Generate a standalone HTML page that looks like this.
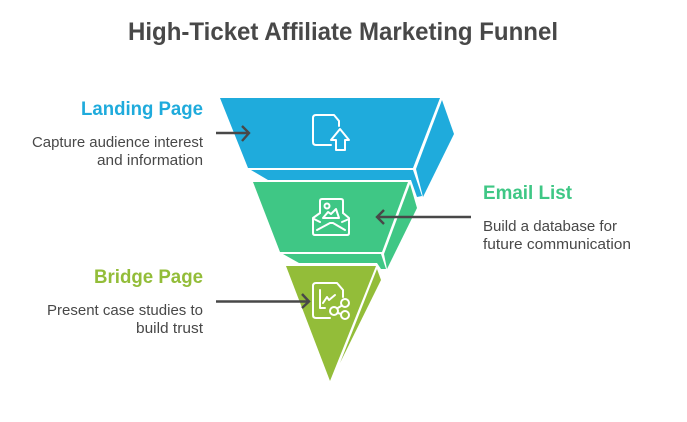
<!DOCTYPE html>
<html><head><meta charset="utf-8"><style>
html,body{margin:0;padding:0;background:#fff;width:687px;height:422px;overflow:hidden}
svg{display:block}
text{font-family:"Liberation Sans",sans-serif}
.t{font-size:15px;fill:#484848}
.h{font-size:19px;font-weight:bold}
.ic{fill:none;stroke:#fff;stroke-width:2;stroke-linejoin:round;stroke-linecap:round}
.ar{fill:none;stroke:#484848;stroke-width:2.400}
</style></head><body>
<svg width="687" height="422" viewBox="0 0 687 422" xmlns="http://www.w3.org/2000/svg">
<text x="343" y="40" text-anchor="middle" font-size="25" font-weight="bold" fill="#484848" textLength="430" lengthAdjust="spacingAndGlyphs">High-Ticket Affiliate Marketing Funnel</text>

<polygon points="220,98 440,98 413,168 248,168" fill="#1fabdc"/>
<polygon points="442,100 454,134 423,197 416,169" fill="#1fabdc"/>
<polygon points="251,170 413,170 422,196 417,197 411,180 268,180" fill="#1fabdc"/>

<polygon points="253,182 408,182 382,252 280,252" fill="#3fc785"/>
<polygon points="410,184 417,208 387,269 384,254" fill="#3fc785"/>
<polygon points="283,254 381,254 386,269 381,269 377,263 299,263" fill="#3fc785"/>

<polygon points="286,266 376,266 330,381" fill="#93bd39"/>
<polygon points="377,269 381,280 340,363" fill="#93bd39"/>

<path class="ic" d="M331,145 H316 Q313,145 313,142 V118 Q313,115 316,115 H334 L339,121 V126"/>
<path class="ic" d="M340,129 L349,140 H345 V150 H336 V140 H331 Z"/>

<path class="ic" d="M320,213 V201 Q320,199 322,199 H341 Q343,199 343,201 V213"/>
<path class="ic" d="M320,213 L313,218 V233 Q313,235 315,235 H347 Q349,235 349,233 V218 L343,213"/>
<path class="ic" d="M317,230 L330,223 H333 L345,230 M314,219 L320,222 M349,219 L342,222"/>
<circle class="ic" cx="327" cy="206" r="2.500"/>
<path class="ic" d="M323,218 L328,212 L331,214 L336,209 L339,218 Z"/>

<path class="ic" d="M330,318 H316 Q313,318 313,315 V286 Q313,283 316,283 H337 L343,290 V297"/>
<path class="ic" d="M320,290 V308 H325 M323,303 L327,297 L329,300 L335,295"/>
<circle class="ic" cx="334" cy="311" r="4"/>
<circle class="ic" cx="345" cy="303" r="4"/>
<circle class="ic" cx="345" cy="315" r="4"/>
<path class="ic" d="M337,308.500 L342,305.500 M338,313 L341,314"/>

<path class="ar" d="M216,133 H248 M242,126 L249,133 L242,141"/>
<path class="ar" d="M471,217 H378 M384,210 L377,217 L384,224"/>
<path class="ar" d="M216,301.500 H308 M302,294 L309,301.500 L302,308"/>

<text class="h" x="81" y="115" fill="#1fabdc" textLength="122" lengthAdjust="spacingAndGlyphs">Landing Page</text>
<text class="t" x="32" y="147" textLength="171" lengthAdjust="spacingAndGlyphs">Capture audience interest</text>
<text class="t" x="97" y="165" textLength="106" lengthAdjust="spacingAndGlyphs">and information</text>

<text class="h" x="483" y="199" fill="#3fc785" textLength="89" lengthAdjust="spacingAndGlyphs">Email List</text>
<text class="t" x="483" y="231" textLength="134" lengthAdjust="spacingAndGlyphs">Build a database for</text>
<text class="t" x="483" y="249" textLength="148" lengthAdjust="spacingAndGlyphs">future communication</text>

<text class="h" x="94" y="283" fill="#93bd39" textLength="109" lengthAdjust="spacingAndGlyphs">Bridge Page</text>
<text class="t" x="47" y="315" textLength="156" lengthAdjust="spacingAndGlyphs">Present case studies to</text>
<text class="t" x="136" y="333" textLength="67" lengthAdjust="spacingAndGlyphs">build trust</text>
</svg>
</body></html>
